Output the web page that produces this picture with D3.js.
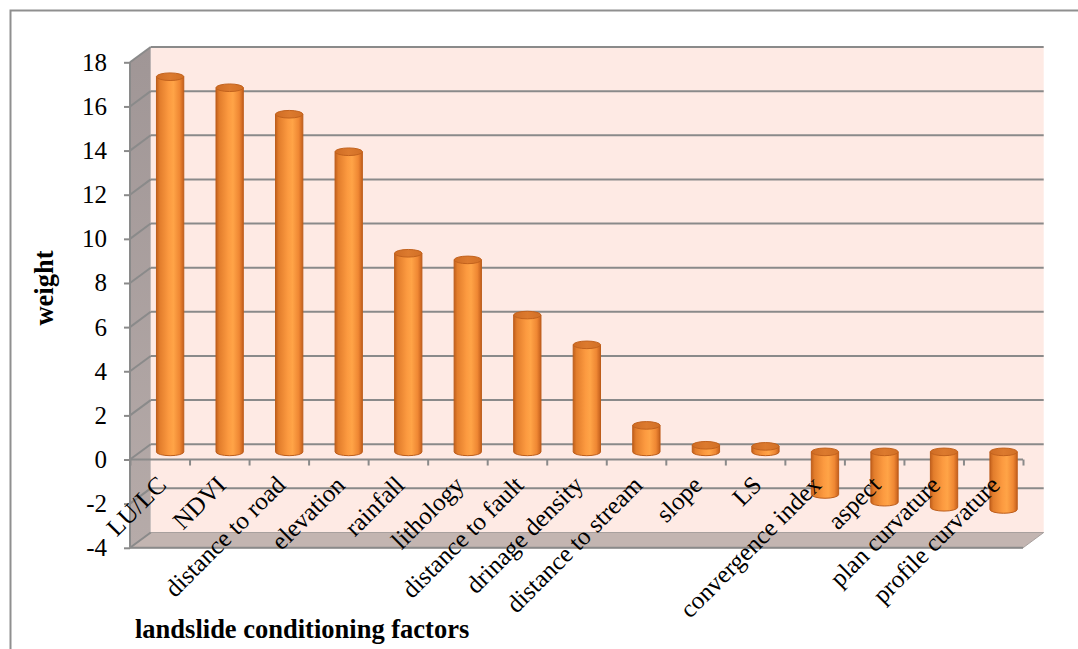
<!DOCTYPE html>
<html>
<head>
<meta charset="utf-8">
<script src="https://cdn.jsdelivr.net/npm/d3@7"></script>
<style>
  html, body { margin: 0; padding: 0; background: #fff; }
  svg { display: block; }
  text { font-family: "Liberation Serif", "Times New Roman", serif; fill: #000; }
</style>
</head>
<body>
<svg id="chart" width="1078" height="649"></svg>
<script>
// Factor names along the category axis
const categories = [
  "LU/LC", "NDVI", "distance to road", "elevation", "rainfall", "lithology",
  "distance to fault", "drinage density", "distance to stream", "slope", "LS",
  "convergence index", "aspect", "plan curvature", "profile curvature"
];
// Weight of each factor
const weights = [17.0, 16.5, 15.3, 13.6, 9.0, 8.7, 6.2, 4.85, 1.2, 0.3, 0.25, -1.93, -2.28, -2.51, -2.61];
// Value axis ticks
const yTicks = [-4, -2, 0, 2, 4, 6, 8, 10, 12, 14, 16, 18];

const serif = '"Liberation Serif", "Times New Roman", serif';
const svg = d3.select("#chart");

// Front plane geometry and the oblique depth offset of the 3D box
const plot = { left: 130, right: 1023, top: 62.3, bottom: 547.8 };
const depth = { dx: 20.7, dy: -15.3 };

const y = d3.scaleLinear().domain([-4, 18]).range([plot.bottom, plot.top]);
const x = d3.scaleBand().domain(categories).range([plot.left, plot.right]).paddingInner(0).paddingOuter(0);
const xEdge = d3.scaleLinear().domain([0, categories.length]).range([plot.left, plot.right]);

const gridColor = "#8a8a8a";

// Gradients
const defs = svg.append("defs");
const body = defs.append("linearGradient").attr("id", "cyl").attr("x1", 0).attr("x2", 1).attr("y1", 0).attr("y2", 0);
[[0, "#c2601c"], [0.12, "#e27d2c"], [0.45, "#fc9a40"], [0.62, "#ffa447"], [0.85, "#ef8733"], [1, "#c45f1c"]]
  .forEach(([o, c]) => body.append("stop").attr("offset", o).attr("stop-color", c));
const cap = defs.append("linearGradient").attr("id", "cap").attr("x1", 0).attr("x2", 1).attr("y1", 0).attr("y2", 0);
[[0, "#cf6c24"], [0.5, "#dc7a2e"], [1, "#d27026"]]
  .forEach(([o, c]) => cap.append("stop").attr("offset", o).attr("stop-color", c));
const side = defs.append("linearGradient").attr("id", "side").attr("x1", 0).attr("x2", 0).attr("y1", 0).attr("y2", 1);
[[0, "#a09696"], [1, "#b6aba9"]]
  .forEach(([o, c]) => side.append("stop").attr("offset", o).attr("stop-color", c));

// Outer chart border
svg.append("rect")
  .attr("x", 10.5).attr("y", 10.5).attr("width", 1100).attr("height", 700)
  .attr("fill", "none").attr("stroke", "#8f8f8f").attr("stroke-width", 2);

const yMin = y(-4), yMax = y(18);

// Back wall
svg.append("rect")
  .attr("x", plot.left + depth.dx).attr("y", yMax + depth.dy)
  .attr("width", plot.right - plot.left).attr("height", yMin - yMax)
  .attr("fill", "#feeae4");

// Side wall
svg.append("path")
  .attr("d", `M${plot.left},${yMax} L${plot.left + depth.dx},${yMax + depth.dy} L${plot.left + depth.dx},${yMin + depth.dy} L${plot.left},${yMin} Z`)
  .attr("fill", "url(#side)");

// Floor
svg.append("path")
  .attr("d", `M${plot.left},${yMin} L${plot.right},${yMin} L${plot.right + depth.dx},${yMin + depth.dy} L${plot.left + depth.dx},${yMin + depth.dy} Z`)
  .attr("fill", "#c3b5b1")
  .attr("stroke", "#a8a09e").attr("stroke-width", 1);

// Gridlines on back and side walls
const grid = svg.append("g").attr("stroke", gridColor).attr("stroke-width", 2).attr("fill", "none");
yTicks.filter(v => v > -4).forEach(v => {
  const yb = y(v) + depth.dy;
  grid.append("line")
    .attr("x1", plot.left + depth.dx).attr("x2", plot.right + depth.dx)
    .attr("y1", yb).attr("y2", yb);
});
yTicks.forEach(v => {
  grid.append("line")
    .attr("x1", plot.left).attr("y1", y(v))
    .attr("x2", plot.left + depth.dx).attr("y2", y(v) + depth.dy);
});
// Floor front edge
grid.append("line").attr("x1", plot.left).attr("x2", plot.right).attr("y1", yMin).attr("y2", yMin);

// Value axis on the front plane (plain hyphen for negatives)
const yAxis = svg.append("g")
  .attr("transform", `translate(${plot.left},0)`)
  .call(d3.axisLeft(y).tickValues(yTicks).tickSize(6).tickPadding(17).tickFormat(d => String(d)))
  .attr("font-family", serif).attr("font-size", 25);
yAxis.select(".domain").attr("stroke", gridColor).attr("stroke-width", 2)
  .attr("d", `M-0,${plot.top}V${plot.bottom}`);
yAxis.selectAll(".tick line").attr("stroke", gridColor).attr("stroke-width", 2);
yAxis.selectAll(".tick text")
  .style("font-family", serif).style("font-size", "25px").attr("fill", "#000");

// Category axis along zero, with ticks between categories
const xAxis = svg.append("g")
  .attr("transform", `translate(0,${y(0)})`)
  .call(d3.axisBottom(xEdge).tickValues(d3.range(categories.length + 1)).tickSize(6).tickFormat(""));
xAxis.select(".domain").attr("stroke", gridColor).attr("stroke-width", 2)
  .attr("d", `M${plot.left},0H${plot.right}`);
xAxis.selectAll(".tick line").attr("stroke", gridColor).attr("stroke-width", 2);

// Cylinders, placed at mid depth of the box
const barW = 27.3, rx = barW / 2, ry = 3.8;
const mid = { dx: depth.dx / 2, dy: depth.dy / 2 };
const bars = svg.append("g");
categories.forEach((c, i) => {
  const v = weights[i];
  const cx = x(c) + x.bandwidth() / 2 + mid.dx;
  const yTop = y(Math.max(v, 0)) + mid.dy;
  const yBot = y(Math.min(v, 0)) + mid.dy;
  const l = cx - rx, r = cx + rx;
  bars.append("path")
    .attr("d", `M${l},${yTop} L${l},${yBot} A${rx},${ry} 0 0 0 ${r},${yBot} L${r},${yTop} Z`)
    .attr("fill", "url(#cyl)")
    .attr("stroke", "#bd5d1a").attr("stroke-width", 1);
  bars.append("ellipse")
    .attr("cx", cx).attr("cy", yTop).attr("rx", rx).attr("ry", ry)
    .attr("fill", "url(#cap)")
    .attr("stroke", "#c2621d").attr("stroke-width", 1);
});

// Rotated category labels
const labels = svg.append("g");
categories.forEach(c => {
  const px = x(c) + x.bandwidth() / 2 + 8;
  const py = y(0) + 27;
  labels.append("text")
    .attr("transform", `translate(${px},${py}) rotate(-45)`)
    .attr("text-anchor", "end")
    .style("font-family", serif)
    .style("font-size", "25px")
    .text(c);
});

// Axis titles
svg.append("text")
  .attr("transform", "translate(53,288) rotate(-90)")
  .attr("text-anchor", "middle")
  .style("font-family", serif)
  .style("font-size", "26.5px").style("font-weight", "bold")
  .text("weight");
svg.append("text")
  .attr("x", 135).attr("y", 638)
  .style("font-family", serif)
  .style("font-size", "26.5px").style("font-weight", "bold")
  .text("landslide conditioning factors");
</script>
</body>
</html>
